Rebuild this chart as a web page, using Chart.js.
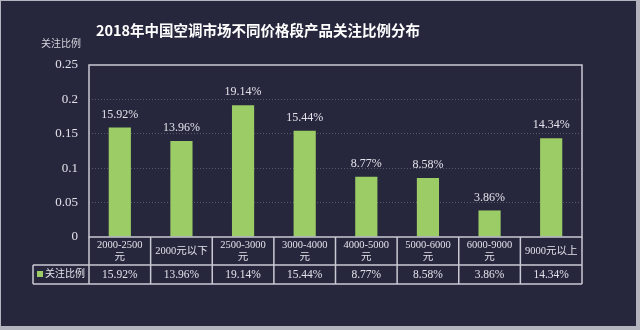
<!DOCTYPE html>
<html>
<head>
<meta charset="utf-8">
<script src="https://cdn.jsdelivr.net/npm/chart.js@4/dist/chart.umd.min.js"></script>
<style>
html,body{margin:0;padding:0;background:#26273d;}
canvas{display:block;}
</style>
</head>
<body>
<canvas id="c" width="640" height="330"></canvas>
<script>
const titleText = '2018年中国空调市场不同价格段产品关注比例分布';
const seriesName = '关注比例';
const categories = [['2000-2500','元'],['2000元以下'],['2500-3000','元'],['3000-4000','元'],['4000-5000','元'],['5000-6000','元'],['6000-9000','元'],['9000元以上']];
const values = [0.1592, 0.1396, 0.1914, 0.1544, 0.0877, 0.0858, 0.0386, 0.1434];
const valueLabels = ['15.92%','13.96%','19.14%','15.44%','8.77%','8.58%','3.86%','14.34%'];
const yTicks = [0, 0.05, 0.1, 0.15, 0.2, 0.25];

const BG = '#26273d';
const LINE = '#c9c9d3';
const TXT = '#e2e2ea';
const GREEN = '#9ccc65';
const SERIF = '"Liberation Serif", "Noto Sans CJK SC", serif';
const CJK = '"Liberation Serif", "Noto Sans CJK SC", sans-serif';

const framePlugin = {
  id: 'frame',
  beforeDraw(chart) {
    const ctx = chart.ctx;
    ctx.save();
    ctx.fillStyle = '#b4b4be';
    ctx.fillRect(0, 0, 640, 330);
    ctx.fillStyle = BG;
    ctx.fillRect(1, 1, 635, 325);
    // title
    ctx.fillStyle = '#ffffff';
    ctx.font = 'bold 14.5px "Noto Sans CJK SC", sans-serif';
    ctx.textAlign = 'center';
    ctx.textBaseline = 'middle';
    ctx.fillText(titleText, 258, 30);
    // axis title
    ctx.fillStyle = '#d4d4dc';
    ctx.font = '10px ' + CJK;
    ctx.textAlign = 'left';
    ctx.fillText(seriesName, 41, 44);
    ctx.restore();
  },
  afterDatasetsDraw(chart) {
    const ctx = chart.ctx;
    const area = chart.chartArea;
    const meta = chart.getDatasetMeta(0);
    ctx.save();
    // value labels
    ctx.fillStyle = TXT;
    ctx.font = '12px ' + SERIF;
    ctx.textAlign = 'center';
    ctx.textBaseline = 'middle';
    meta.data.forEach((bar, i) => {
      ctx.fillText(valueLabels[i], bar.x, bar.y - 13);
    });
    // plot border
    ctx.strokeStyle = LINE;
    ctx.lineWidth = 1.5;
    ctx.strokeRect(area.left, area.top, area.right - area.left, area.bottom - area.top);

    // data table
    const n = categories.length;
    const w = (area.right - area.left) / n;
    const y0 = area.bottom, y1 = y0 + 28, y2 = y1 + 19;
    const legL = 33;
    ctx.lineWidth = 1.5;
    ctx.beginPath();
    ctx.moveTo(legL, y1); ctx.lineTo(area.right, y1);
    ctx.moveTo(legL, y2); ctx.lineTo(area.right, y2);
    ctx.moveTo(legL, y1); ctx.lineTo(legL, y2);
    for (let i = 0; i <= n; i++) {
      const x = area.left + i * w;
      ctx.moveTo(x, y0); ctx.lineTo(x, y2);
    }
    ctx.stroke();
    // header labels
    ctx.fillStyle = TXT;
    for (let i = 0; i < n; i++) {
      const cx = area.left + (i + 0.5) * w;
      const lines = categories[i];
      ctx.font = '10.5px ' + CJK;
      if (lines.length === 2) {
        ctx.fillText(lines[0], cx, y0 + 8);
        ctx.fillText(lines[1], cx, y0 + 20);
      } else {
        ctx.fillText(lines[0], cx, y0 + 14);
      }
      ctx.font = '11.5px ' + SERIF;
      ctx.fillText(valueLabels[i], cx, y1 + 9.5);
    }
    // legend cell
    ctx.fillStyle = GREEN;
    ctx.fillRect(37, y1 + 6, 6, 6);
    ctx.fillStyle = TXT;
    ctx.textAlign = 'left';
    ctx.font = '10px ' + CJK;
    ctx.fillText(seriesName, 45, y1 + 9.5);
    ctx.restore();
  }
};

new Chart(document.getElementById('c'), {
  type: 'bar',
  data: {
    labels: categories.map(c => c.join('')),
    datasets: [{
      label: seriesName,
      data: values,
      backgroundColor: GREEN,
      borderWidth: 0,
      categoryPercentage: 1,
      barPercentage: 0.36
    }]
  },
  options: {
    responsive: false,
    animation: false,
    devicePixelRatio: 1,
    layout: { padding: { top: 65, right: 58, bottom: 93, left: 0 } },
    plugins: { legend: { display: false }, tooltip: { enabled: false }, title: { display: false } },
    scales: {
      x: { display: false },
      y: {
        min: 0, max: 0.25,
        afterFit(scale) { scale.width = 89; },
        afterBuildTicks(scale) { scale.ticks = yTicks.map(v => ({ value: v })); },
        ticks: {
          color: TXT,
          padding: 11,
          font: { family: SERIF, size: 13 },
          callback: v => String(+v.toFixed(2))
        },
        grid: {
          drawTicks: false,
          lineWidth: 1,
          color: ctx => (ctx.tick && (ctx.tick.value === 0 || ctx.tick.value === 0.25)) ? 'rgba(0,0,0,0)' : 'rgba(150,150,170,0.45)'
        },
        border: { display: false, dash: [1, 2] }
      }
    }
  },
  plugins: [framePlugin]
});
</script>
</body>
</html>
